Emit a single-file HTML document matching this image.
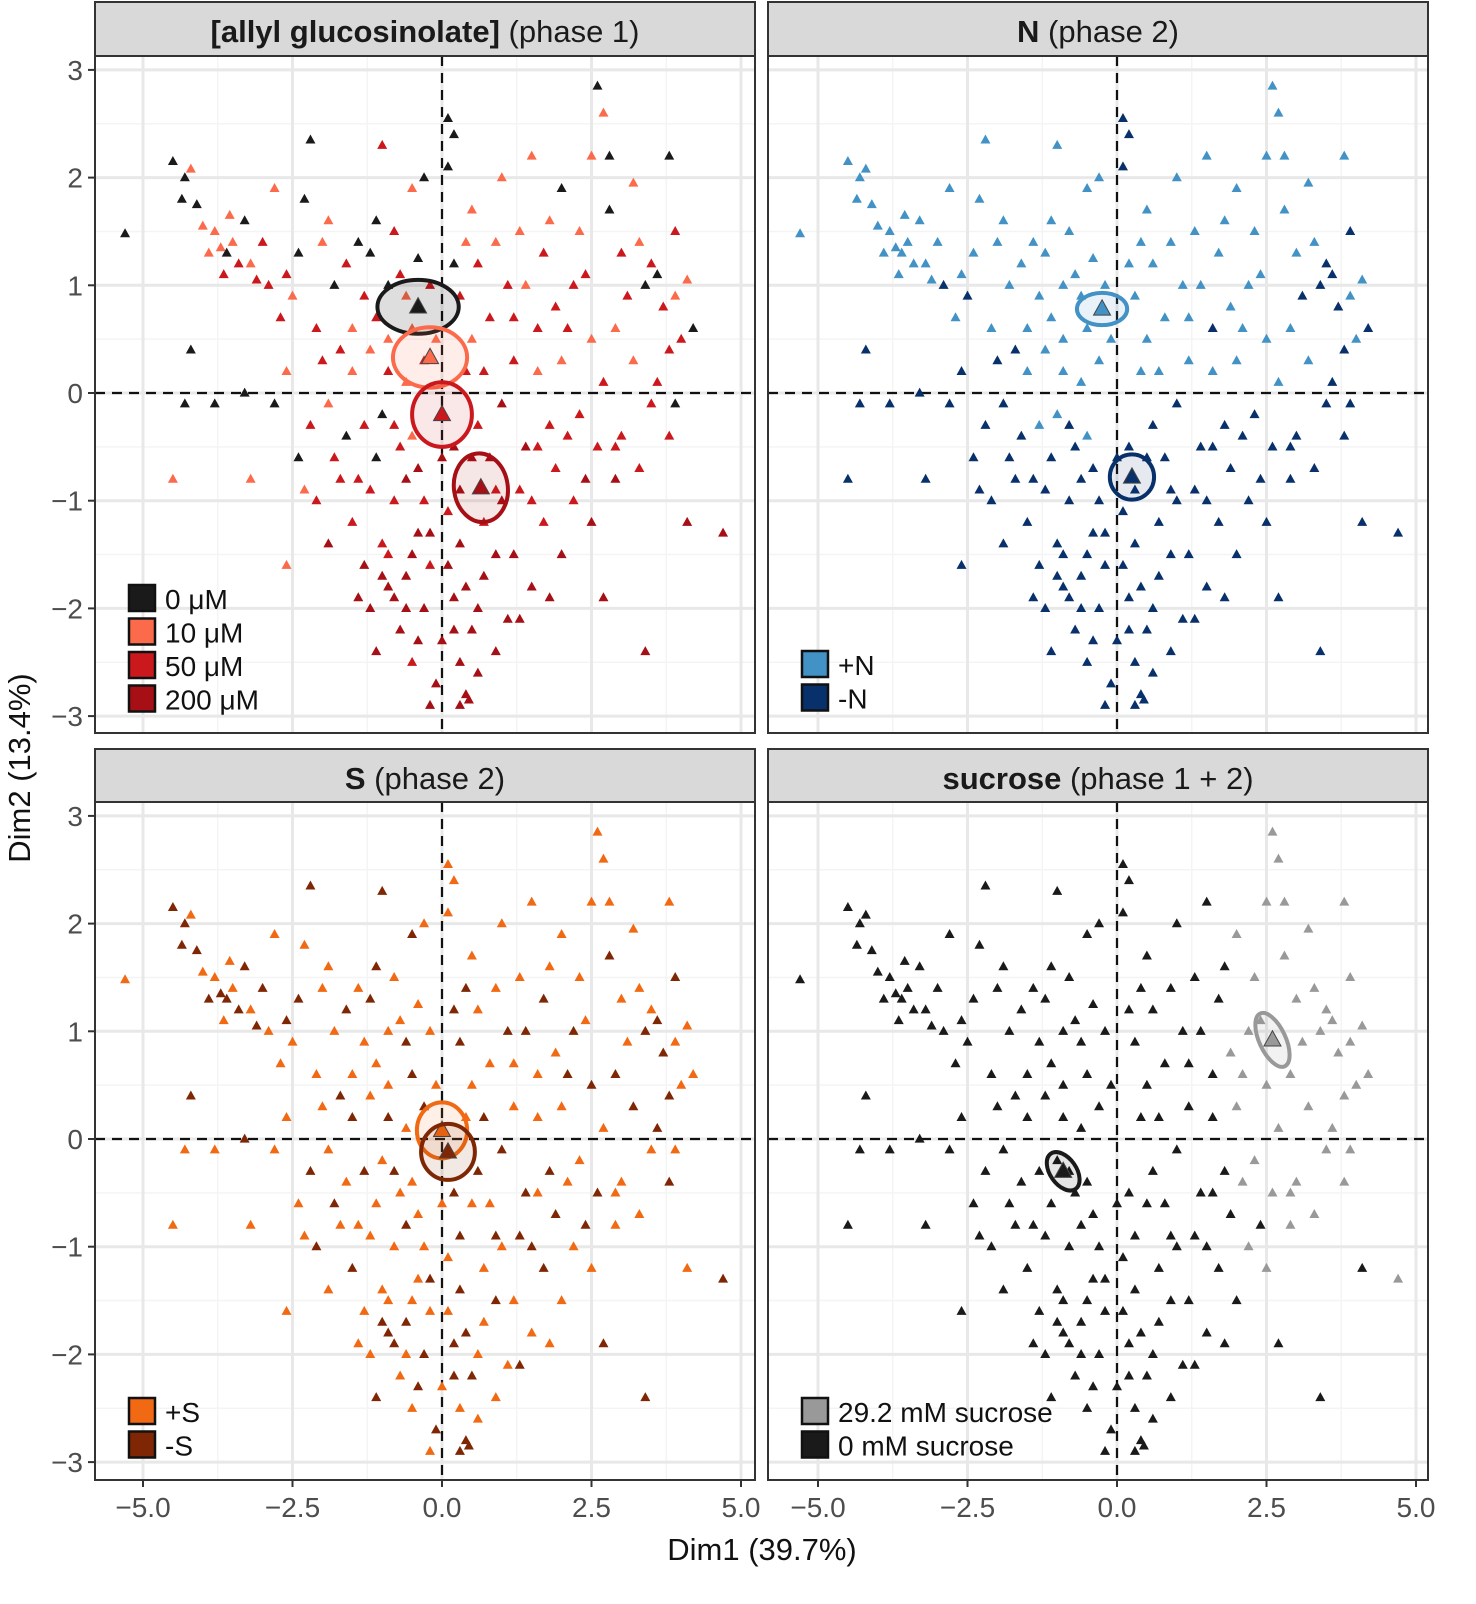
<!DOCTYPE html>
<html><head><meta charset="utf-8"><style>
html,body{margin:0;padding:0;background:#fff;}
svg{display:block;font-family:"Liberation Sans",Arial,sans-serif;}
</style></head><body>
<svg id="chart" width="1476" height="1604" viewBox="0 0 1476 1604" xmlns="http://www.w3.org/2000/svg"></svg>
<script>
const dim1=[-5.3,-4.5,-4.3,-4.2,-4.35,-4.1,-3.8,-3.7,-3.6,-3.5,-3.4,-3.55,-3.3,-3.2,-3.0,-2.9,-2.8,-2.6,-2.5,-2.3,-2.2,-2.0,-1.8,-1.6,-1.5,-1.4,-1.2,-1.0,-0.9,-0.8,-0.6,-0.4,-0.3,-0.5,-1.1,-2.6,-2.8,-3.3,-3.8,-4.3,-4.2,-4.5,-3.2,-2.4,-2.2,-1.9,-1.6,-1.3,-1.0,-0.7,-0.5,-1.5,-2.0,-1.2,-0.9,-0.6,-0.3,0.1,0.2,0.1,0.4,0.6,0.3,0.5,0.8,1.0,1.1,1.3,1.5,1.7,1.9,2.0,2.2,2.5,2.6,2.7,2.8,3.0,3.2,3.4,3.5,3.6,3.8,3.9,4.0,4.1,4.2,3.8,3.9,3.8,3.5,3.2,3.0,2.7,2.5,2.3,2.6,2.9,2.0,1.8,1.6,1.4,1.2,1.0,0.8,0.6,0.4,0.2,4.7,4.1,3.4,2.5,2.7,2.0,1.7,1.5,1.3,1.1,0.9,0.7,0.5,0.4,0.3,0.2,0.1,0.0,-0.1,-0.2,-0.3,-0.4,-0.5,-0.6,-0.7,-0.8,-0.9,-1.0,-1.1,-1.2,-1.3,-1.5,-1.7,-1.9,-2.1,-2.6,0.3,0.45,-0.2,0.6,-0.8,-0.9,-1.0,0.9,1.3,2.2,1.0,0.3,-0.3,-0.6,0.0,1.9,2.9,1.6,
-3.9,-3.65,-3.1,-2.7,-2.4,-2.1,-1.9,-1.7,-1.3,-1.1,-0.9,-0.7,-0.5,-0.2,-0.1,0.2,0.5,0.7,0.9,1.2,1.4,1.6,1.8,2.1,2.3,2.4,2.9,3.1,3.3,3.7,-2.3,-1.8,-1.4,-1.1,-0.8,-0.4,0.3,0.5,0.7,0.9,1.2,1.5,1.8,2.1,2.4,-0.5,-0.2,0.1,0.4,-0.6,-0.4,0.6,0.2,-1.2,-1.4,3.3,3.6,3.9,2.8,-4.0];
const dim2=[1.48,2.15,2.0,2.08,1.8,1.75,1.5,1.35,1.3,1.4,1.2,1.65,1.6,1.2,1.4,1.0,1.9,1.1,0.9,1.8,2.35,1.4,1.0,1.2,0.6,1.4,1.3,2.3,1.0,1.5,0.9,1.25,2.0,1.9,0.7,0.2,-0.1,0.0,-0.1,-0.1,0.4,-0.8,-0.8,-0.6,-0.3,-0.1,-0.4,-0.3,-0.2,-0.5,-0.4,0.2,0.3,0.4,0.2,0.1,0.3,2.55,2.4,2.1,1.4,1.2,0.9,0.5,0.7,2.0,1.0,1.5,2.2,1.3,0.8,1.9,1.0,2.2,2.85,2.6,1.7,1.3,1.95,1.0,1.2,1.1,2.2,1.5,0.5,1.05,0.6,0.4,-0.1,-0.4,-0.1,0.3,-0.4,0.1,0.5,-0.2,-0.5,-0.8,0.3,-0.3,0.2,-0.5,0.3,-0.1,-0.6,-0.3,0.2,-0.5,-1.3,-1.2,-2.4,-1.2,-1.9,-1.5,-1.2,-1.8,-0.9,-2.1,-1.5,-1.2,-2.2,-2.8,-2.5,-1.9,-1.1,-2.3,-2.7,-1.6,-2.0,-1.3,-2.5,-1.7,-2.2,-1.0,-1.8,-1.4,-2.4,-0.9,-1.6,-1.2,-0.8,-1.4,-1.0,-1.6,-2.9,-2.85,-2.9,-2.6,-1.9,-1.5,-1.7,-2.4,-2.1,-1.0,-1.0,-1.4,-1.0,-0.8,-0.6,-0.7,-0.5,-0.5,
1.3,1.1,1.05,0.7,1.3,0.6,1.6,0.4,0.9,1.6,0.5,1.1,0.6,1.0,0.5,1.2,1.7,0.2,1.4,0.7,1.0,0.6,1.6,0.6,1.5,1.1,0.6,0.9,1.4,0.8,-0.9,-0.6,-0.8,-0.6,-0.3,-0.7,-0.9,-0.6,-1.7,-0.9,-1.5,-1.0,-1.9,-0.4,-0.8,-1.5,-1.3,-1.6,-1.8,-2.0,-2.3,-2.0,-2.2,-2.0,-1.9,-0.7,0.1,0.9,2.2,1.55];
const glcGroup="0001001101"+"2101221210"+"0102100202"+"1001210000"+"0110210202"+"1121212000"+"1221212112"+"2021010210"+"2002210202"+"2122122312"+"1323322333"+"3333232332"+"3333233233"+"2332323232"+"2321333332"+"3332332332"+"22"
 +"1222021220"+"1212101212"+"1212121212"+"1220233332"+"3232333333"+"3333322101";
const nGroup="++++++++++"+"+++++-++-+"+"++++++++++"+"+++++-----"+"-------++-"+"++-++++---"+"++++++++++"+"+++++++++-"+"--+-++----"+"-+-++---+-"+"+-+---+---"+"----------"+"----------"+"----------"+"----------"+"----------"+"--"
 +"+++++++-++"+"++++++++++"+"+-+++++-+-"+"----------"+"----------"+"-------+++";
const sGroup="+--+--+--+"+"-+-+-++-++"+"-++-++--++"+"-++-+++-++"+"-+++-++-++"+"+-++-+-+++"+"-+-+++-++-"+"++-+++-++-"+"+-+-+++-+-"+"+-++-+-++-"+"+-+-+-+--+"+"-+-+-+-+-+"+"--+-++-+-+"+"+-++-+-++-"+"++-+--++-+"+"-+-++-+-+-"+"++"
 +"-+-+-++-+-"+"++-++-+-++"+"-++-++-++-"+"+-++-+-++-"+"+-++-+-+-+"+"-+-+++-+++";
const sucGroup="0000000000"+"0000000000"+"0000000000"+"0000000000"+"0000000000"+"0000000000"+"0000000000"+"1111111111"+"1111111111"+"1111111110"+"0000000010"+"0100000000"+"0000000000"+"0000000000"+"0000000000"+"0001000000"+"10"
 +"0000000000"+"0000000000"+"0001111111"+"0000000000"+"0001000000"+"0000011110";
const xTicks=[-5.0,-2.5,0.0,2.5,5.0];
const yTicks=[3,2,1,0,-1,-2,-3];
const glcCentroids=[[-0.4,0.8,0.68,0.25,0],[-0.2,0.33,0.62,0.28,0],[0.0,-0.2,0.5,0.3,0],[0.65,-0.88,0.45,0.32,-8]];
const nCentroids=[[-0.25,0.78,0.42,0.15,0],[0.25,-0.78,0.37,0.21,0]];
const sCentroids=[[0.0,0.08,0.42,0.26,0],[0.1,-0.12,0.45,0.26,0]];
const sucCentroids=[[2.6,0.92,0.22,0.27,-25],[-0.9,-0.3,0.22,0.2,-35]];

const NS="http://www.w3.org/2000/svg";
const svg=document.getElementById('chart');
function el(tag,attrs,parent){const e=document.createElementNS(NS,tag);for(const k in attrs)e.setAttribute(k,attrs[k]);(parent||svg).appendChild(e);return e;}

const panels=[
 {name:'glucosinolate-panel',x0:95,x1:755,y0:56,y1:733,sy0:2,zeroX:442,zeroY:393,bold:'[allyl glucosinolate]',rest:' (phase 1)',
  group:glcGroup,colors:{'0':'#1a1a1a','1':'#fb6a4a','2':'#cb181d','3':'#a50f15'},fills:{'0':'rgba(0,0,0,0.13)','1':'rgba(251,106,74,0.12)','2':'rgba(203,24,29,0.1)','3':'rgba(165,15,21,0.1)'},keys:['0','1','2','3'],cents:glcCentroids,
  legend:[['0','0 μM'],['1','10 μM'],['2','50 μM'],['3','200 μM']],legTop:585},
 {name:'nitrogen-panel',x0:768,x1:1428,y0:56,y1:733,sy0:2,zeroX:1117,zeroY:393,bold:'N',rest:' (phase 2)',
  group:nGroup,colors:{'+':'#4292c6','-':'#08306b'},fills:{'+':'rgba(66,146,198,0.12)','-':'rgba(8,48,107,0.1)'},keys:['+','-'],cents:nCentroids,
  legend:[['+','+N'],['-','-N']],legTop:651},
 {name:'sulfur-panel',x0:95,x1:755,y0:802,y1:1480,sy0:749,zeroX:442,zeroY:1139,bold:'S',rest:' (phase 2)',
  group:sGroup,colors:{'+':'#f16913','-':'#7f2704'},fills:{'+':'rgba(241,105,19,0.1)','-':'rgba(127,39,4,0.1)'},keys:['+','-'],cents:sCentroids,
  legend:[['+','+S'],['-','-S']],legTop:1398},
 {name:'sucrose-panel',x0:768,x1:1428,y0:802,y1:1480,sy0:749,zeroX:1117,zeroY:1139,bold:'sucrose',rest:' (phase 1 + 2)',
  group:sucGroup,colors:{'1':'#999999','0':'#1a1a1a'},fills:{'1':'rgba(150,150,150,0.12)','0':'rgba(0,0,0,0.1)'},keys:['1','0'],cents:sucCentroids,
  legend:[['1','29.2 mM sucrose'],['0','0 mM sucrose']],legTop:1398}
];
const PX=59.8, PY=107.7;
function tri(g,cx,cy,s,fill,stroke,sw){
  const h=s*0.9;
  return el('polygon',{points:`${cx},${cy-h*0.6} ${cx-s/2},${cy+h*0.4} ${cx+s/2},${cy+h*0.4}`,fill:fill,stroke:stroke||'none','stroke-width':sw||0},g);
}
panels.forEach((p,pi)=>{
  const g=el('g',{});
  
  
  const sx=v=>p.zeroX+v*PX, sy=v=>p.zeroY-v*PY;
  const clipId='clip'+pi;
  const cp=el('clipPath',{id:clipId},g);el('rect',{x:p.x0,y:p.y0,width:p.x1-p.x0,height:p.y1-p.y0},cp);
  for(let v=-6.25;v<=6;v+=2.5){const x=sx(v);if(x>p.x0&&x<p.x1)el('line',{x1:x,x2:x,y1:p.y0,y2:p.y1,stroke:'#f4f4f4','stroke-width':1.5},g);}
  for(let v=-3.5;v<=3.5;v+=1){const y=sy(v);if(y>p.y0&&y<p.y1)el('line',{x1:p.x0,x2:p.x1,y1:y,y2:y,stroke:'#f4f4f4','stroke-width':1.5},g);}
  xTicks.forEach(v=>{const x=sx(v);if(x>p.x0&&x<p.x1){const l=el('line',{x1:x,x2:x,y1:p.y0,y2:p.y1,stroke:'#e8e8e8','stroke-width':3},g);}});
  yTicks.forEach(v=>{const y=sy(v);const l=el('line',{x1:p.x0,x2:p.x1,y1:y,y2:y,stroke:'#e8e8e8','stroke-width':3},g);});
  const zx=el('line',{x1:sx(0),x2:sx(0),y1:p.y0,y2:p.y1,stroke:'#111','stroke-width':2.2,'stroke-dasharray':'10,7'},g);
  
  const zy=el('line',{x1:p.x0,x2:p.x1,y1:sy(0),y2:sy(0),stroke:'#111','stroke-width':2.2,'stroke-dasharray':'10,7'},g);
  
  const pg=el('g',{'clip-path':`url(#${clipId})`},g);
  dim1.forEach((d,i)=>{
    const k=p.group[i];
    const t=tri(pg,sx(d),sy(dim2[i]),10,p.colors[k]);
    
    
  });
  p.cents.forEach((c,ci)=>{
    const k=p.keys[ci];
    const e=el('ellipse',{cx:sx(c[0]),cy:sy(c[1]),rx:c[2]*PX,ry:c[3]*PY,fill:p.fills[k],stroke:p.colors[k],'stroke-width':4,transform:`rotate(${c[4]} ${sx(c[0])} ${sy(c[1])})`},g);
    
    
    const t=tri(g,sx(c[0]),sy(c[1]),17,p.colors[k],'#444',1);
    
    
  });
  const b=el('rect',{x:p.x0,y:p.y0,width:p.x1-p.x0,height:p.y1-p.y0,fill:'none',stroke:'#333','stroke-width':2},g);
  
  const s=el('rect',{x:p.x0,y:p.sy0,width:p.x1-p.x0,height:p.y0-p.sy0,fill:'#d9d9d9',stroke:'#333','stroke-width':2},g);
  
  const st=el('text',{x:(p.x0+p.x1)/2,y:p.sy0+40,'text-anchor':'middle','font-size':31,fill:'#1a1a1a'},g);
  
  const tb=el('tspan',{'font-weight':'bold'},st);tb.textContent=p.bold;
  const tr=el('tspan',{},st);tr.textContent=p.rest;
  p.legend.forEach((L,li)=>{
    const y=p.legTop+li*33.5;
    const r=el('rect',{x:p.x0+34,y:y,width:26,height:26,fill:p.colors[L[0]],stroke:'#111','stroke-width':2.5},g);
    
    const tx=el('text',{x:p.x0+70,y:y+24,'font-size':28,fill:'#111'},g);
    tx.textContent=L[1];
    
  });
  if(p.x0<100){
    yTicks.forEach(v=>{const y=sy(v);
      el('line',{x1:p.x0-7,x2:p.x0,y1:y,y2:y,stroke:'#333','stroke-width':2},g);
      const t=el('text',{x:p.x0-12,y:y+10,'text-anchor':'end','font-size':28,fill:'#4d4d4d'},g);
      t.textContent=v<0?'−'+Math.abs(v):String(v);
      });
  }
  if(p.y0>700){
    xTicks.forEach(v=>{const x=sx(v);
      el('line',{x1:x,x2:x,y1:p.y1,y2:p.y1+7,stroke:'#333','stroke-width':2},g);
      const t=el('text',{x:x,y:p.y1+37,'text-anchor':'middle','font-size':28,fill:'#4d4d4d'},g);
      t.textContent=(v<0?'−':'')+Math.abs(v).toFixed(1);
      });
  }
});
const xt=el('text',{x:762,y:1560,'text-anchor':'middle','font-size':31,fill:'#111'});
xt.textContent='Dim1 (39.7%)';

const yt=el('text',{x:0,y:0,'text-anchor':'middle','font-size':31,fill:'#111',transform:'translate(30,768) rotate(-90)'});
yt.textContent='Dim2 (13.4%)';

</script>
</body></html>
